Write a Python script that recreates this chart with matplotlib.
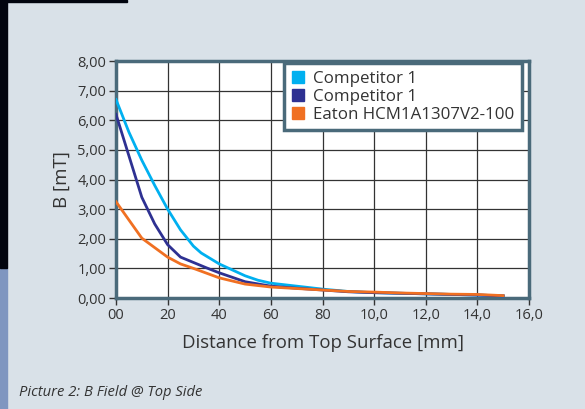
import matplotlib
matplotlib.use("Agg")
import matplotlib.pyplot as plt
from matplotlib.patches import Rectangle

plt.rcParams["font.family"] = ["Open Sans", "DejaVu Sans"]

# data
dist_light = [0, 0.5, 1, 1.5, 2, 2.5, 3, 3.3, 4, 4.5, 5, 5.5, 6, 7, 8, 9, 10, 11, 12, 13, 14, 15]
comp1_light = [6.7, 5.6, 4.65, 3.8, 3.0, 2.3, 1.75, 1.52, 1.15, 0.95, 0.75, 0.6, 0.5, 0.4, 0.3, 0.22, 0.18, 0.16, 0.14, 0.12, 0.1, 0.07]
dist_dark = [0, 0.5, 1, 1.5, 2, 2.5, 3, 3.5, 4, 5, 6, 7, 8, 9, 10, 11, 12, 13, 14, 15]
comp1_dark = [6.2, 4.8, 3.4, 2.5, 1.8, 1.38, 1.2, 1.02, 0.85, 0.55, 0.4, 0.33, 0.27, 0.21, 0.18, 0.16, 0.14, 0.12, 0.1, 0.07]
dist_eaton = [0, 1, 2, 2.5, 3, 4, 5, 6, 7, 8, 9, 10, 11, 12, 13, 14, 15]
eaton = [3.25, 2.02, 1.38, 1.15, 1.0, 0.68, 0.47, 0.37, 0.32, 0.27, 0.22, 0.2, 0.17, 0.15, 0.13, 0.12, 0.08]

x_ticks = [0, 2, 4, 6, 8, 10, 12, 14, 16]
x_labels = ["00", "20", "40", "60", "80", "10,0", "12,0", "14,0", "16,0"]
y_ticks = [0, 1, 2, 3, 4, 5, 6, 7, 8]
y_labels = ["0,00", "1,00", "2,00", "3,00", "4,00", "5,00", "6,00", "7,00", "8,00"]
names = ["Competitor 1", "Competitor 1", "Eaton HCM1A1307V2-100"]
colors = ["#00b0f0", "#2e3192", "#f07022"]

bg = "#d9e1e8"
frame = "#4a6a7a"
txt = "#333333"

fig = plt.figure(figsize=(5.85, 4.09), dpi=100, facecolor=bg)
# dark strips at the left/top edges of the screenshot
fig.patches.append(Rectangle((0, 0), 7 / 585, 141 / 409, transform=fig.transFigure, color="#7f96c0", zorder=0))
fig.patches.append(Rectangle((0, 141 / 409), 7 / 585, 268 / 409, transform=fig.transFigure, color="#02050f", zorder=0))
fig.patches.append(Rectangle((0, 1 - 2 / 409), 127 / 585, 2 / 409, transform=fig.transFigure, color="#02050f", zorder=0))

ax = fig.add_axes([116 / 585, 1 - 298 / 409, 413 / 585, 237 / 409])
ax.set_facecolor("white")

ax.plot(dist_light, comp1_light, color=colors[0], lw=2, label=names[0], zorder=3)
ax.plot(dist_dark, comp1_dark, color=colors[1], lw=2, label=names[1], zorder=3)
ax.plot(dist_eaton, eaton, color=colors[2], lw=2, label=names[2], zorder=4)

ax.set_xlim(0, 16)
ax.set_ylim(0, 8)
ax.set_xticks(x_ticks)
ax.set_xticklabels(x_labels)
ax.set_yticks(y_ticks)
ax.set_yticklabels(y_labels)
ax.grid(True, color="#333333", lw=0.9)
ax.set_axisbelow(True)
ax.tick_params(labelsize=10.5, colors=txt, length=5, width=1, pad=2)
for s in ax.spines.values():
    s.set_color(frame)
    s.set_linewidth(2.5)

ax.set_xlabel("Distance from Top Surface [mm]", fontsize=13.4, color=txt, labelpad=8)
ax.set_ylabel("B [mT]", fontsize=13.4, color=txt, labelpad=5)

handles = [Rectangle((0, 0), 1, 1, color=c) for c in colors]
leg = ax.legend(handles, names, loc="upper right", bbox_to_anchor=(0.982, 0.99),
                borderaxespad=0, fontsize=12.2, frameon=True, fancybox=False,
                handlelength=0.75, handleheight=0.75, handletextpad=0.5,
                labelspacing=0.1, borderpad=0.45, labelcolor=txt)
leg.get_frame().set_edgecolor(frame)
leg.get_frame().set_linewidth(2.5)
leg.get_frame().set_alpha(1)

fig.text(19 / 585, 1 - 393 / 409, "Picture 2: B Field @ Top Side", fontsize=10.6,
         style="italic", color=txt, va="center")

fig.savefig("out.png", dpi=100, facecolor=bg)
